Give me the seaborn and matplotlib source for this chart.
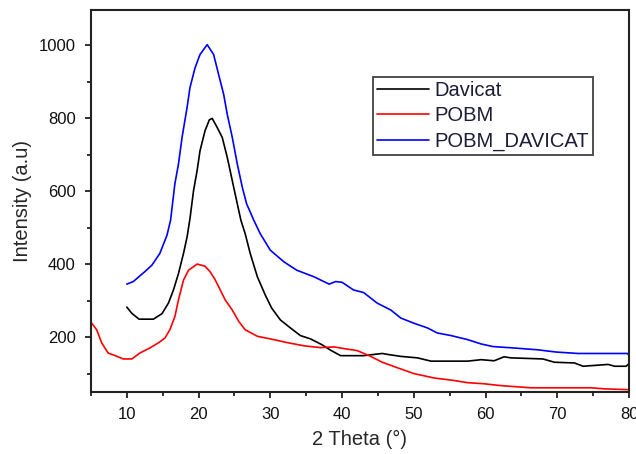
import matplotlib
matplotlib.use("Agg")
import matplotlib.pyplot as plt
import seaborn as sns
import pandas as pd
from matplotlib.ticker import MultipleLocator

# --- data ---
davicat_x = [10, 10.7, 11.7, 13.7, 14.9, 15.8, 16.5, 17.2, 17.9, 18.4, 18.8, 19.3, 19.8, 20.2, 20.9,
             21.5, 21.9, 22.6, 23.3, 24.0, 24.4, 24.9, 25.4, 25.9, 26.5, 27.2, 28.2, 29.3, 30.2,
             31.4, 32.8, 34.2, 35.6, 37.2, 38.4, 39.8, 43.0, 45.6, 46.5, 48.2, 50.5, 52.4, 57.5,
             59.4, 61.2, 62.6, 63.5, 68.0, 69.6, 72.4, 73.6, 77.1, 78.0, 79.6, 80.0]
davicat_y = [283, 266, 250, 250, 265, 294, 330, 375, 430, 475, 525, 602, 657, 711, 766,
             796, 800, 775, 748, 693, 657, 611, 566, 521, 484, 430, 366, 316, 280,
             248, 226, 205, 196, 180, 165, 150, 150, 156, 153, 148, 144, 135, 135,
             139, 136, 147, 144, 141, 132, 130, 121, 126, 121, 121, 128]

pobm_x = [5.1, 5.8, 6.5, 7.4, 8.4, 9.5, 10.7, 11.8, 13.2, 14.4, 15.3, 16.0, 16.7, 17.2, 17.9,
          18.6, 19.8, 20.9, 21.6, 22.2, 22.8, 23.7, 24.7, 25.6, 26.5, 28.2, 30.0, 32.3, 34.7,
          37.0, 38.9, 40.7, 42.1, 44.0, 45.6, 47.7, 50.0, 52.8, 55.6, 57.5, 59.8, 62.1, 66.3,
          70.1, 74.7, 76.6, 79.8]
pobm_y = [239, 221, 185, 157, 150, 141, 141, 157, 171, 185, 198, 221, 257, 303, 357,
          384, 401, 395, 380, 362, 339, 303, 275, 244, 221, 203, 196, 186, 177,
          172, 174, 168, 164, 148, 132, 117, 101, 89, 82, 76, 73, 68, 62,
          62, 62, 59, 57]

mix_x = [10, 10.9, 12.5, 13.5, 14.6, 15.6, 16.1, 16.7, 17.2, 17.7, 18.4, 18.8, 19.5, 20.2, 21.2,
         22.1, 22.8, 23.5, 24.0, 24.7, 25.4, 26.1, 26.7, 27.7, 28.6, 30.0, 31.9, 33.7, 36.1,
         38.2, 39.1, 40.0, 41.6, 43.0, 44.9, 46.8, 48.2, 50.0, 51.9, 53.3, 55.2, 57.5, 59.4,
         61.0, 64.0, 67.3, 69.8, 72.9, 76.6, 79.8, 80.0]
mix_y = [346, 353, 380, 398, 430, 480, 521, 621, 675, 748, 830, 884, 938, 975, 1002,
         975, 920, 866, 811, 748, 675, 611, 566, 521, 484, 439, 407, 384, 366,
         346, 353, 351, 330, 323, 294, 275, 253, 239, 226, 212, 205, 194, 182,
         175, 171, 166, 160, 156, 156, 156, 150]

series_names = ["Davicat", "POBM", "POBM_DAVICAT"]
colors = ["#000000", "#ff0000", "#0000ff"]
x_ticks = [10, 20, 30, 40, 50, 60, 70, 80]
y_ticks = [200, 400, 600, 800, 1000]

frames = []
for name, xs, ys in zip(series_names, [davicat_x, pobm_x, mix_x], [davicat_y, pobm_y, mix_y]):
    frames.append(pd.DataFrame({"theta": xs, "intensity": ys, "sample": name}))
df = pd.concat(frames, ignore_index=True)

sns.set_style("ticks")
plt.rcParams["font.family"] = ["Liberation Sans", "DejaVu Sans"]

fig = plt.figure(figsize=(6.36, 4.54), dpi=100)
ax = fig.add_axes([0.143, 0.137, 0.846, 0.841])

sns.lineplot(data=df, x="theta", y="intensity", hue="sample", palette=colors,
             hue_order=series_names, sort=False, estimator=None, linewidth=1.2, ax=ax)

ax.set_xlim(5, 80)
ax.set_ylim(51, 1097)
ax.set_xticks(x_ticks)
ax.set_yticks(y_ticks)
ax.xaxis.set_minor_locator(MultipleLocator(5))
ax.yaxis.set_minor_locator(MultipleLocator(100))
ax.tick_params(which="major", direction="out", length=4, width=1.3, labelsize=12,
               color="#222222", labelcolor="#111111")
ax.tick_params(axis="y", which="major", pad=7)
ax.tick_params(axis="x", which="major", pad=7)
ax.tick_params(which="minor", direction="out", length=3, width=1.3, color="#222222")
for s in ax.spines.values():
    s.set_visible(True)
    s.set_linewidth(1.5)
    s.set_color("#222222")

ax.set_xlabel("2 Theta (°)", fontsize=14.5, labelpad=6)
ax.set_ylabel("Intensity (a.u)", fontsize=14.5, labelpad=5)

leg = ax.legend(loc="upper left", bbox_to_anchor=(0.524, 0.825), frameon=True, fancybox=False,
                fontsize=14.5, handlelength=2.6, handletextpad=0.25, borderpad=0.2,
                labelspacing=0.32, borderaxespad=0)
leg.get_frame().set_edgecolor("#222222")
leg.get_frame().set_linewidth(1.4)
for t in leg.get_texts():
    t.set_color("#1c1c38")

fig.savefig("out.png", dpi=100)
